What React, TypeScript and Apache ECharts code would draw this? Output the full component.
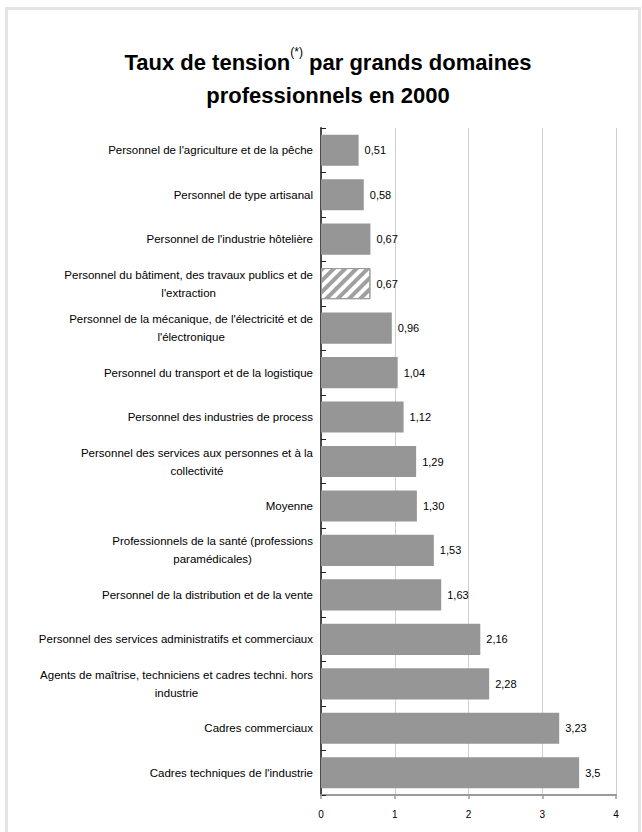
import React, { useEffect, useRef } from "react";
import * as echarts from "echarts";

const categories: string[] = [
  "Personnel de l'agriculture et de la pêche",
  "Personnel de type artisanal",
  "Personnel de l'industrie hôtelière",
  "Personnel du bâtiment, des travaux publics et de\nl'extraction",
  "Personnel de la mécanique, de l'électricité et de\nl'électronique",
  "Personnel du transport et de la logistique",
  "Personnel des industries de process",
  "Personnel des services aux personnes et à la\ncollectivité",
  "Moyenne",
  "Professionnels de la santé (professions\nparamédicales)",
  "Personnel de la distribution et de la vente",
  "Personnel des services administratifs et commerciaux",
  "Agents de maîtrise, techniciens et cadres techni. hors\nindustrie",
  "Cadres commerciaux",
  "Cadres techniques de l'industrie",
];

const values: number[] = [0.51, 0.58, 0.67, 0.67, 0.96, 1.04, 1.12, 1.29, 1.3, 1.53, 1.63, 2.16, 2.28, 3.23, 3.5];

const valueLabels: string[] = [
  "0,51", "0,58", "0,67", "0,67", "0,96", "1,04", "1,12", "1,29", "1,30", "1,53", "1,63", "2,16", "2,28", "3,23", "3,5",
];

const hatchedCategory = "Personnel du bâtiment, des travaux publics et de\nl'extraction";

const xMin = 0;
const xMax = 4;
const xStep = 1;

const titleLine1a = "Taux de tension";
const titleSup = "(*)";
const titleLine1b = " par grands domaines";
const titleLine2 = "professionnels en 2000";

const FONT = "'Liberation Sans', Arial, Helvetica, sans-serif";

export default function App() {
  const ref = useRef<HTMLDivElement>(null);

  useEffect(() => {
    if (!ref.current) return;
    const chart = echarts.init(ref.current, null, { renderer: "svg" });

    const seriesData = values.map((v, i) =>
      categories[i] === hatchedCategory
        ? {
            value: v,
            itemStyle: {
              color: "#ffffff",
              borderColor: "#9a9a9a",
              borderWidth: 1,
              decal: {
                symbol: "rect",
                symbolSize: 1,
                color: "#a0a0a0",
                dashArrayX: [1, 0],
                dashArrayY: [4, 4],
                rotation: -Math.PI / 4,
              },
            },
          }
        : v
    );

    chart.setOption({
      animation: false,
      backgroundColor: "#ffffff",
      textStyle: { fontFamily: FONT },
      title: {
        left: 328,
        top: 46,
        padding: 0,
        textAlign: "center",
        text: `{t|${titleLine1a}}{sup|${titleSup}}{t|${titleLine1b}}\n{t|${titleLine2}}`,
        textStyle: {
          fontFamily: FONT,
          fontSize: 22,
          fontWeight: "bold",
          color: "#000",
          lineHeight: 33,
          rich: {
            t: { fontFamily: FONT, fontSize: 22, fontWeight: "bold", color: "#000", lineHeight: 33 },
            sup: { fontFamily: FONT, fontSize: 12, fontWeight: "normal", color: "#000", lineHeight: 14, verticalAlign: "top" },
          },
        },
      },
      graphic: [
        {
          type: "rect",
          shape: { x: 6.5, y: 8.5, width: 633, height: 900 },
          style: { fill: "none", stroke: "#e4e4e4", lineWidth: 3 },
          silent: true,
          z: -10,
        },
      ],
      grid: { left: 321, right: 26, top: 128, bottom: 37, containLabel: false },
      xAxis: {
        type: "value",
        min: xMin,
        max: xMax,
        interval: xStep,
        axisLine: { show: true, lineStyle: { color: "#9a9a9a", width: 2 } },
        axisTick: { show: true, length: 4, lineStyle: { color: "#9a9a9a", width: 1.5 } },
        splitLine: { show: true, lineStyle: { color: "#cfcfcf", width: 1 } },
        axisLabel: { fontSize: 10, color: "#000", margin: 14, fontFamily: FONT },
      },
      yAxis: {
        type: "category",
        inverse: true,
        data: categories,
        axisLine: { show: true, lineStyle: { color: "#4a4a4a", width: 2 } },
        axisTick: { show: true, inside: true, length: 5, lineStyle: { color: "#222", width: 1 } },
        axisLabel: {
          margin: 8,
          fontFamily: FONT,
          fontSize: 11.5,
          color: "#000",
          lineHeight: 18,
          formatter: (val: string) =>
            val
              .split("\n")
              .map((l) => `{c|${l}}`)
              .join("\n"),
          rich: {
            c: { fontFamily: FONT, fontSize: 11.5, color: "#000", lineHeight: 18, align: "center" },
          },
        },
      },
      series: [
        {
          type: "bar",
          data: seriesData,
          barCategoryGap: "30%",
          itemStyle: { color: "#969696" },
          label: {
            show: true,
            position: "right",
            distance: 6,
            fontFamily: FONT,
            fontSize: 11,
            color: "#000",
            formatter: (p: any) => valueLabels[p.dataIndex],
          },
        },
      ],
    });

    return () => chart.dispose();
  }, []);

  return (
    <div
      ref={ref}
      style={{ position: "fixed", left: 0, top: 0, width: 642, height: 832 }}
    />
  );
}
